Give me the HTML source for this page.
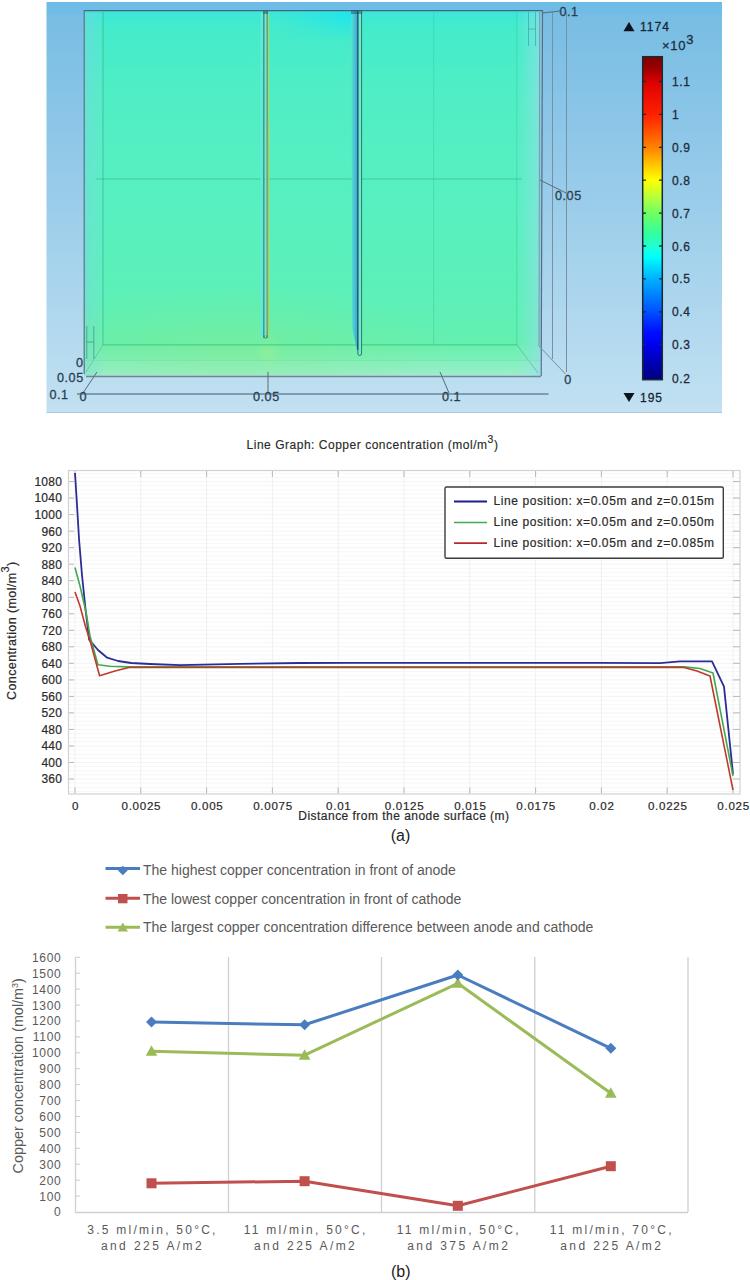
<!DOCTYPE html>
<html><head><meta charset="utf-8">
<style>
html,body{margin:0;padding:0;background:#fff;}
body{width:750px;height:1280px;overflow:hidden;position:relative;font-family:"Liberation Sans",sans-serif;}
svg{position:absolute;left:0;top:0;}
text{font-family:"Liberation Sans",sans-serif;}
</style></head><body>

<!-- ============ TOP: 3D COMSOL PLOT ============ -->
<svg id="top3d" width="750" height="420" viewBox="0 0 750 420">
<defs>
<linearGradient id="bg" x1="0" y1="0" x2="0" y2="1">
<stop offset="0" stop-color="#6ebce6"/>
<stop offset="0.027" stop-color="#70bce6"/>
<stop offset="0.03" stop-color="#78bde4"/>
<stop offset="0.5" stop-color="#9bcdea"/>
<stop offset="1" stop-color="#c2e1f2"/>
</linearGradient>
<linearGradient id="box" x1="0" y1="0" x2="0" y2="1">
<stop offset="0" stop-color="#3ae8d8"/>
<stop offset="0.05" stop-color="#44ebcc"/>
<stop offset="0.25" stop-color="#50eec4"/>
<stop offset="0.6" stop-color="#58f0c0"/>
<stop offset="0.9" stop-color="#5ef0b6"/>
<stop offset="1" stop-color="#64f0b0"/>
</linearGradient>
<linearGradient id="floor" x1="0" y1="0" x2="0" y2="1">
<stop offset="0" stop-color="#6af0b0"/>
<stop offset="0.48" stop-color="#7af0b8"/>
<stop offset="0.52" stop-color="#84f0c0"/>
<stop offset="0.85" stop-color="#92eec6"/>
<stop offset="1" stop-color="#a8e8d4"/>
</linearGradient>
<linearGradient id="rside" x1="0" y1="0" x2="1" y2="0">
<stop offset="0" stop-color="#a0e0f0" stop-opacity="0"/>
<stop offset="1" stop-color="#98dcec" stop-opacity="0.6"/>
</linearGradient>
<linearGradient id="lside" x1="0" y1="0" x2="1" y2="0">
<stop offset="0" stop-color="#80d0e8" stop-opacity="0.45"/>
<stop offset="1" stop-color="#80e0e0" stop-opacity="0.15"/>
</linearGradient>
<linearGradient id="cyanhl" x1="0" y1="0" x2="0" y2="1">
<stop offset="0" stop-color="#18e4f4" stop-opacity="0.9"/>
<stop offset="1" stop-color="#18e4f4" stop-opacity="0"/>
</linearGradient>
<linearGradient id="cyanhlx" x1="0" y1="0" x2="1" y2="0">
<stop offset="0" stop-color="#fff" stop-opacity="0"/>
<stop offset="1" stop-color="#fff" stop-opacity="1"/>
</linearGradient>
<mask id="hlmask"><rect x="280" y="11" width="72" height="30" fill="url(#cyanhlx)"/></mask>
<linearGradient id="cbar" x1="0" y1="0" x2="0" y2="1">
<stop offset="0" stop-color="#7c0000"/>
<stop offset="0.04" stop-color="#a00000"/>
<stop offset="0.077" stop-color="#dc0000"/>
<stop offset="0.179" stop-color="#ff2000"/>
<stop offset="0.23" stop-color="#ff5000"/>
<stop offset="0.28" stop-color="#ff8000"/>
<stop offset="0.33" stop-color="#ffc000"/>
<stop offset="0.382" stop-color="#ffff00"/>
<stop offset="0.44" stop-color="#b0ff40"/>
<stop offset="0.484" stop-color="#70ff60"/>
<stop offset="0.55" stop-color="#30ffa0"/>
<stop offset="0.586" stop-color="#20ffd0"/>
<stop offset="0.62" stop-color="#00ffff"/>
<stop offset="0.688" stop-color="#00b0ff"/>
<stop offset="0.74" stop-color="#0080ff"/>
<stop offset="0.79" stop-color="#0050ff"/>
<stop offset="0.85" stop-color="#0010ff"/>
<stop offset="0.892" stop-color="#0000f0"/>
<stop offset="0.95" stop-color="#0000b0"/>
<stop offset="1" stop-color="#000080"/>
</linearGradient>
</defs>
<rect x="46.5" y="2" width="675.5" height="411" fill="url(#bg)"/>
<line x1="46.5" y1="412.5" x2="722" y2="412.5" stroke="#b0c8d8" stroke-width="1"/>

<!-- green box -->
<rect x="84" y="11" width="456" height="334" fill="url(#box)"/>
<rect x="84" y="345" width="456" height="31" fill="url(#floor)"/>
<rect x="84" y="11" width="19" height="365" fill="url(#lside)"/>
<rect x="517" y="11" width="23" height="365" fill="url(#rside)"/>
<rect x="280" y="11" width="72" height="30" fill="url(#cyanhl)" mask="url(#hlmask)"/>
<defs>
<radialGradient id="ygl" cx="230" cy="350" r="230" gradientUnits="userSpaceOnUse" gradientTransform="translate(230 350) scale(1 0.28) translate(-230 -350)">
<stop offset="0" stop-color="#90e880" stop-opacity="0.35"/>
<stop offset="1" stop-color="#90e880" stop-opacity="0"/>
</radialGradient>
<radialGradient id="ygl2" cx="268" cy="352" r="30" gradientUnits="userSpaceOnUse" gradientTransform="translate(268 352) scale(0.45 0.6) translate(-268 -352)">
<stop offset="0" stop-color="#c8f070" stop-opacity="0.22"/>
<stop offset="1" stop-color="#c8f070" stop-opacity="0"/>
</radialGradient>
</defs>
<rect x="84" y="200" width="456" height="176" fill="url(#ygl)"/>
<rect x="220" y="330" width="100" height="46" fill="url(#ygl2)"/>

<!-- back face / internal lines -->
<g fill="none" stroke-width="1">
<line x1="84" y1="12.5" x2="540" y2="12.5" stroke="#50d8d8" opacity="0.6"/>
<line x1="103" y1="12" x2="103" y2="345" stroke="#30b890" opacity="0.75"/>
<line x1="516.8" y1="12" x2="516.8" y2="345" stroke="#40d0a0" opacity="0.6"/>
<line x1="433.7" y1="12" x2="433.7" y2="345" stroke="#30b890" opacity="0.35"/>
<line x1="103" y1="344.8" x2="517" y2="344.8" stroke="#3cc888" stroke-width="1.3" opacity="0.8"/>
<line x1="96" y1="179" x2="522" y2="179" stroke="#34a884" opacity="0.55"/>
<line x1="103" y1="345" x2="86" y2="372" stroke="#40c090" opacity="0.6"/>
<line x1="517" y1="345" x2="538" y2="373" stroke="#60b8a8" opacity="0.8"/>
<line x1="86" y1="360.5" x2="540" y2="360.5" stroke="#70e0b0" opacity="0.5"/>
</g>
<!-- small electrode marks -->
<g stroke="#2c9c7c" stroke-width="0.9" fill="none" opacity="0.8">
<path d="M86.8 326V359M93.8 326V359M86.8 342h7"/>
<path d="M528.5 12V46M535.5 12V46M528.5 29h7" stroke="#3aa8a0"/>
</g>

<!-- front face border -->
<polygon points="539.7,11 542.5,11 541.6,346 539,346" fill="#94c8d8" opacity="0.7"/>
<line x1="84" y1="10.6" x2="543" y2="10.6" stroke="#3a6a7c" stroke-width="1.3"/>
<line x1="84.2" y1="10" x2="84.2" y2="374" stroke="#5a7484" stroke-width="1.2"/>
<line x1="542.5" y1="10" x2="541.2" y2="376" stroke="#4e7088" stroke-width="1.2"/>
<line x1="539.7" y1="12" x2="539" y2="346" stroke="#7a98a8" stroke-width="1"/>
<line x1="86" y1="376.5" x2="541" y2="376.5" stroke="#6c8696" stroke-width="1.5"/>

<!-- anode plate (left) -->
<defs><linearGradient id="cath" x1="0" y1="0" x2="1" y2="0"><stop offset="0" stop-color="#58e0d0"/><stop offset="1" stop-color="#3ca8d8"/></linearGradient></defs>
<rect x="260.5" y="12" width="2.5" height="325" fill="#64e8d4"/>
<rect x="264.5" y="12" width="2.2" height="325" fill="#80e2d0"/>
<line x1="263.8" y1="11" x2="263.8" y2="338" stroke="#2e9c8c" stroke-width="1.4"/>
<line x1="267.2" y1="11" x2="267.2" y2="338" stroke="#5e7a58" stroke-width="1.1"/>
<path d="M263.8 335Q263.8 338.3 265.5 338.3Q267.2 338.3 267.2 335" fill="none" stroke="#4a7a68" stroke-width="1"/>
<line x1="268.5" y1="14" x2="268.5" y2="337" stroke="#a4dc6c" stroke-width="1.4"/>
<line x1="268.3" y1="120" x2="268.3" y2="330" stroke="#d8b838" stroke-width="0.8" opacity="0.7"/>
<rect x="263" y="10" width="5" height="4" fill="#2a6a70" opacity="0.6"/>
<!-- cathode plate (right) -->
<polygon points="351.3,11 357.4,11 357.4,352 352.2,328" fill="url(#cath)"/>
<rect x="358.3" y="11" width="2.8" height="343" fill="#74e8c8"/>
<path d="M357.8 11V353Q357.8 355.6 359.7 355.6Q361.6 355.6 361.6 353V11" fill="none" stroke="#2c7878" stroke-width="1"/>
<line x1="357.8" y1="11" x2="357.8" y2="350" stroke="#1c5670" stroke-width="1.2"/>
<rect x="351" y="10" width="11" height="4" fill="#1a4a70" opacity="0.5"/>

<!-- right axis frame lines -->
<g stroke="#7a90a0" stroke-width="1" fill="none">
<line x1="552.5" y1="12" x2="552.5" y2="359"/>
<line x1="566.5" y1="12" x2="566.5" y2="372"/>
<line x1="539" y1="346" x2="565.5" y2="374"/>
</g>
<g stroke="#5a6a7a" stroke-width="1" fill="none">
<line x1="542.5" y1="13" x2="560" y2="11"/>
<line x1="540" y1="180" x2="566" y2="193"/>
<line x1="97" y1="372" x2="83" y2="393"/>
<line x1="268" y1="372" x2="268" y2="392"/>
<line x1="440" y1="372" x2="449" y2="393"/>
</g>
<line x1="77" y1="394" x2="548.5" y2="394" stroke="#6e8494" stroke-width="1.5"/>

<!-- axis labels -->
<g font-size="12.6" fill="#2a3e50" stroke="#2a3e50" stroke-width="0.3" letter-spacing="0.55">
<text x="559.5" y="16">0.1</text>
<text x="555" y="200.3">0.05</text>
<text x="564.3" y="383.5">0</text>
<text x="76" y="367.2">0</text>
<text x="57" y="382">0.05</text>
<text x="49.5" y="399.2">0.1</text>
<text x="79.5" y="401.3">0</text>
<text x="253" y="401.3">0.05</text>
<text x="442" y="401.3">0.1</text>
</g>

<!-- colorbar -->
<rect x="642.7" y="56.7" width="19.6" height="323" fill="url(#cbar)" stroke="#1a2a30" stroke-width="1.5"/>
<path d="M643 81.5h3M659 81.5h3M643 114.4h3M659 114.4h3M643 147.3h3M659 147.3h3M643 180.2h3M659 180.2h3M643 213.1h3M659 213.1h3M643 246h3M659 246h3M643 278.9h3M659 278.9h3M643 311.8h3M659 311.8h3M643 344.7h3M659 344.7h3" stroke="#1a2a30" stroke-width="1.3"/>
<g font-size="12" fill="#1c2e3e" stroke="#1c2e3e" stroke-width="0.3" letter-spacing="0.6">
<text x="672" y="86">1.1</text>
<text x="672" y="118.9">1</text>
<text x="672" y="151.8">0.9</text>
<text x="672" y="184.7">0.8</text>
<text x="672" y="217.6">0.7</text>
<text x="672" y="250.5">0.6</text>
<text x="672" y="283.4">0.5</text>
<text x="672" y="316.3">0.4</text>
<text x="672" y="349.2">0.3</text>
<text x="672" y="382.5">0.2</text>
<text x="640" y="31.3" fill="#101c28" letter-spacing="1">1174</text>
<text x="640" y="402" fill="#101c28" letter-spacing="1">195</text>
<text x="662" y="50" font-size="13" letter-spacing="0.7">×10</text>
<text x="686.3" y="44.2" font-size="13">3</text>
</g>
<path d="M623.5 31.3 L629 22 L634.5 31.3 Z" fill="#0c141c"/>
<path d="M623.5 393 L629 402 L634.5 393 Z" fill="#0c141c"/>
</svg>

<!-- ============ CHART (a) ============ -->
<svg id="chartA" width="750" height="860" viewBox="0 0 750 860">
<text x="372.5" y="448.8" font-size="12" fill="#2a2a2a" stroke="#2a2a2a" stroke-width="0.15" text-anchor="middle" letter-spacing="0.52">Line Graph: Copper concentration (mol/m<tspan font-size="10.5" dy="-5.5">3</tspan><tspan dy="5.5">)</tspan></text>
<path d="M69 791.4H740 M69 787.3H740 M69 783.1H740 M69 774.9H740 M69 770.7H740 M69 766.6H740 M69 758.3H740 M69 754.2H740 M69 750.1H740 M69 741.8H740 M69 737.7H740 M69 733.6H740 M69 725.3H740 M69 721.2H740 M69 717.0H740 M69 708.8H740 M69 704.6H740 M69 700.5H740 M69 692.3H740 M69 688.1H740 M69 684.0H740 M69 675.7H740 M69 671.6H740 M69 667.5H740 M69 659.2H740 M69 655.1H740 M69 651.0H740 M69 642.7H740 M69 638.6H740 M69 634.4H740 M69 626.2H740 M69 622.0H740 M69 617.9H740 M69 609.6H740 M69 605.5H740 M69 601.4H740 M69 593.1H740 M69 589.0H740 M69 584.9H740 M69 576.6H740 M69 572.5H740 M69 568.3H740 M69 560.1H740 M69 555.9H740 M69 551.8H740 M69 543.6H740 M69 539.4H740 M69 535.3H740 M69 527.0H740 M69 522.9H740 M69 518.8H740 M69 510.5H740 M69 506.4H740 M69 502.2H740 M69 494.0H740 M69 489.9H740 M69 485.7H740 M69 477.5H740 M69 473.3H740" stroke="#f7f7f7" stroke-width="1"/>
<path d="M69 779.0H740 M69 762.5H740 M69 746.0H740 M69 729.4H740 M69 712.9H740 M69 696.4H740 M69 679.9H740 M69 663.3H740 M69 646.8H740 M69 630.3H740 M69 613.8H740 M69 597.3H740 M69 580.7H740 M69 564.2H740 M69 547.7H740 M69 531.2H740 M69 514.6H740 M69 498.1H740 M69 481.6H740" stroke="#f3f3f3" stroke-width="1"/>
<path d="M75.0 471V794 M140.8 471V794 M206.6 471V794 M272.4 471V794 M338.2 471V794 M404.0 471V794 M469.8 471V794 M535.6 471V794 M601.4 471V794 M667.2 471V794 M733.0 471V794" stroke="#f0f0f0" stroke-width="1"/>
<rect x="68.5" y="470.5" width="671.5" height="323.5" fill="none" stroke="#d2d2d6" stroke-width="1.2"/>
<path d="M69 779.0h5M733 779.0h7 M69 762.5h5M733 762.5h7 M69 746.0h5M733 746.0h7 M69 729.4h5M733 729.4h7 M69 712.9h5M733 712.9h7 M69 696.4h5M733 696.4h7 M69 679.9h5M733 679.9h7 M69 663.3h5M733 663.3h7 M69 646.8h5M733 646.8h7 M69 630.3h5M733 630.3h7 M69 613.8h5M733 613.8h7 M69 597.3h5M733 597.3h7 M69 580.7h5M733 580.7h7 M69 564.2h5M733 564.2h7 M69 547.7h5M733 547.7h7 M69 531.2h5M733 531.2h7 M69 514.6h5M733 514.6h7 M69 498.1h5M733 498.1h7 M69 481.6h5M733 481.6h7 M75.0 471v6M75.0 793.5v-6 M140.8 471v6M140.8 793.5v-6 M206.6 471v6M206.6 793.5v-6 M272.4 471v6M272.4 793.5v-6 M338.2 471v6M338.2 793.5v-6 M404.0 471v6M404.0 793.5v-6 M469.8 471v6M469.8 793.5v-6 M535.6 471v6M535.6 793.5v-6 M601.4 471v6M601.4 793.5v-6 M667.2 471v6M667.2 793.5v-6 M733.0 471v6M733.0 793.5v-6" stroke="#b8b8b8" stroke-width="1"/>
<g font-size="12" fill="#2a2a2a" stroke="#2a2a2a" stroke-width="0.2" text-anchor="end" letter-spacing="0.3">
<text x="62.3" y="783.3">360</text>
<text x="62.3" y="766.8">400</text>
<text x="62.3" y="750.3">440</text>
<text x="62.3" y="733.7">480</text>
<text x="62.3" y="717.2">520</text>
<text x="62.3" y="700.7">560</text>
<text x="62.3" y="684.2">600</text>
<text x="62.3" y="667.6">640</text>
<text x="62.3" y="651.1">680</text>
<text x="62.3" y="634.6">720</text>
<text x="62.3" y="618.1">760</text>
<text x="62.3" y="601.6">800</text>
<text x="62.3" y="585.0">840</text>
<text x="62.3" y="568.5">880</text>
<text x="62.3" y="552.0">920</text>
<text x="62.3" y="535.5">960</text>
<text x="62.3" y="518.9">1000</text>
<text x="62.3" y="502.4">1040</text>
<text x="62.3" y="485.9">1080</text>
</g>
<g font-size="11.6" fill="#2a2a2a" stroke="#2a2a2a" stroke-width="0.2" text-anchor="middle" letter-spacing="0.7" transform="translate(0.6 0)">
<text x="75.0" y="810">0</text>
<text x="140.8" y="810">0.0025</text>
<text x="206.6" y="810">0.005</text>
<text x="272.4" y="810">0.0075</text>
<text x="338.2" y="810">0.01</text>
<text x="404.0" y="810">0.0125</text>
<text x="469.8" y="810">0.015</text>
<text x="535.6" y="810">0.0175</text>
<text x="601.4" y="810">0.02</text>
<text x="667.2" y="810">0.0225</text>
<text x="733.0" y="810">0.025</text>
</g>
<text x="298.3" y="819.7" font-size="12" fill="#2a2a2a" stroke="#2a2a2a" stroke-width="0.2" letter-spacing="0.47">Distance from the anode surface (m)</text>
<text transform="translate(15.9 700) rotate(-90)" font-size="12.5" fill="#2a2a2a" stroke="#2a2a2a" stroke-width="0.2" letter-spacing="0.4">Concentration (mol/m<tspan font-size="11" dy="-6.5">3</tspan><tspan dy="6.5">)</tspan></text>
<polyline points="75,473 77,505 79.1,540 82,575 85.6,610 89.1,639.6 98,650 107.2,657.7 118,661 131.2,663 150,664 180,665.2 240,663.8 300,663 350,662.8 450,662.9 600,662.9 660,663.1 680,661.4 712,661.4 724,686.6 733,774" fill="none" stroke="#2c2c98" stroke-width="1.8" stroke-linejoin="round"/>
<polyline points="75,567.5 80,586 86,612 90,636 97.9,664.7 110,666.3 129,666.9 684,666.9 700,668.5 713,673 733,776" fill="none" stroke="#43a84e" stroke-width="1.6" stroke-linejoin="round"/>
<polyline points="75,592.1 80,606 85.6,627 89.7,639.5 99.6,675.8 115,671 128.9,667.5 684,667.4 697,671 710,676 733,790" fill="none" stroke="#c0392b" stroke-width="1.6" stroke-linejoin="round"/>
<rect x="445" y="487" width="278.3" height="71.3" rx="1.5" fill="#fff" stroke="#3c3c3c" stroke-width="1.4"/>
<path d="M454 501.5H487" stroke="#1e1e8c" stroke-width="1.8"/>
<path d="M454 522.5H487" stroke="#43a84e" stroke-width="1.6"/>
<path d="M454 543.2H487" stroke="#b82a2a" stroke-width="1.8"/>
<g font-size="12" fill="#2a2a2a" stroke="#2a2a2a" stroke-width="0.2" letter-spacing="0.6">
<text x="493.4" y="505.3">Line position: x=0.05m and z=0.015m</text>
<text x="493.4" y="525.9">Line position: x=0.05m and z=0.050m</text>
<text x="493.4" y="546.8">Line position: x=0.05m and z=0.085m</text>
</g>
<text x="400.5" y="841" font-size="16" fill="#222" text-anchor="middle">(a)</text>
</svg>
<!-- ============ CHART (b) ============ -->
<svg id="chartB" width="750" height="1280" viewBox="0 0 750 1280" style="top:0">
<g stroke-width="3">
<path d="M105.5 868.5H140" stroke="#4a7dbf"/>
<path d="M105.5 898.3H140" stroke="#c0504d"/>
<path d="M105.5 927.3H140" stroke="#9bbb59"/>
</g>
<path d="M122.8 865.8 L127.6 870.5 L122.8 875.2 L118 870.5 Z" fill="#4a7dbf"/>
<rect x="118" y="894" width="9.5" height="9.3" fill="#c0504d"/>
<path d="M122.8 922.5 L128 931.5 L117.6 931.5 Z" fill="#9bbb59"/>
<g font-size="14" fill="#595959">
<text x="143" y="874.6">The highest copper concentration in front of anode</text>
<text x="143" y="903.9">The lowest copper concentration in front of cathode</text>
<text x="143" y="931.8">The largest copper concentration difference between anode and cathode</text>
</g>
<path d="M75.5 957V1212.5H688M228.5 957V1212M381.5 957V1212M534.8 957V1212M688 957V1212" fill="none" stroke="#d0d0d0" stroke-width="1.3"/>
<path d="M75.5 1196.1h4.5 M75.5 1180.2h4.5 M75.5 1164.2h4.5 M75.5 1148.3h4.5 M75.5 1132.4h4.5 M75.5 1116.5h4.5 M75.5 1100.6h4.5 M75.5 1084.6h4.5 M75.5 1068.7h4.5 M75.5 1052.8h4.5 M75.5 1036.9h4.5 M75.5 1021.0h4.5 M75.5 1005.1h4.5 M75.5 989.1h4.5 M75.5 973.2h4.5 M75.5 957.3h4.5" stroke="#cccccc" stroke-width="1"/>
<g font-size="12" fill="#595959" text-anchor="end" letter-spacing="0.7">
<text x="61.4" y="1216.4">0</text>
<text x="61.4" y="1200.5">100</text>
<text x="61.4" y="1184.6">200</text>
<text x="61.4" y="1168.6">300</text>
<text x="61.4" y="1152.7">400</text>
<text x="61.4" y="1136.8">500</text>
<text x="61.4" y="1120.9">600</text>
<text x="61.4" y="1105.0">700</text>
<text x="61.4" y="1089.0">800</text>
<text x="61.4" y="1073.1">900</text>
<text x="61.4" y="1057.2">1000</text>
<text x="61.4" y="1041.3">1100</text>
<text x="61.4" y="1025.4">1200</text>
<text x="61.4" y="1009.5">1300</text>
<text x="61.4" y="993.5">1400</text>
<text x="61.4" y="977.6">1500</text>
<text x="61.4" y="961.7">1600</text>
</g>
<text transform="translate(22.5 1173.5) rotate(-90)" font-size="14.4" fill="#595959">Copper concentration (mol/m<tspan font-size="9" dy="-5">3</tspan><tspan dy="5">)</tspan></text>
<polyline points="151.5,1183.3 304.6,1181.2 457.8,1205.8 610.8,1166.2" fill="none" stroke="#c0504d" stroke-width="3" stroke-linejoin="round"/>
<rect x="146.5" y="1178.3" width="10" height="10" fill="#c0504d"/>
<rect x="299.6" y="1176.2" width="10" height="10" fill="#c0504d"/>
<rect x="452.8" y="1200.8" width="10" height="10" fill="#c0504d"/>
<rect x="605.8" y="1161.2" width="10" height="10" fill="#c0504d"/>
<polyline points="151.5,1051.2 304.6,1055.2 457.8,983.3 610.8,1093.3" fill="none" stroke="#9bbb59" stroke-width="3" stroke-linejoin="round"/>
<path d="M151.5 1045.2L157.3 1055.7L145.7 1055.7Z" fill="#9bbb59"/>
<path d="M304.6 1049.2L310.4 1059.7L298.8 1059.7Z" fill="#9bbb59"/>
<path d="M457.8 977.3L463.6 987.8L452.0 987.8Z" fill="#9bbb59"/>
<path d="M610.8 1087.3L616.6 1097.8L605.0 1097.8Z" fill="#9bbb59"/>
<polyline points="151.5,1022.1 304.6,1024.8 457.8,975 610.8,1048.3" fill="none" stroke="#4a7dbf" stroke-width="3" stroke-linejoin="round"/>
<path d="M151.5 1016.6L157.0 1022.1L151.5 1027.6L146.0 1022.1Z" fill="#4a7dbf"/>
<path d="M304.6 1019.3L310.1 1024.8L304.6 1030.3L299.1 1024.8Z" fill="#4a7dbf"/>
<path d="M457.8 969.5L463.3 975.0L457.8 980.5L452.3 975.0Z" fill="#4a7dbf"/>
<path d="M610.8 1042.8L616.3 1048.3L610.8 1053.8L605.3 1048.3Z" fill="#4a7dbf"/>
<g font-size="12" fill="#595959" text-anchor="middle" letter-spacing="2.25">
<text x="152.5" y="1233.6">3.5 ml/min, 50°C,</text>
<text x="152.5" y="1250" letter-spacing="2.43">and 225 A/m2</text>
<text x="305.6" y="1233.6">11 ml/min, 50°C,</text>
<text x="305.6" y="1250" letter-spacing="2.43">and 225 A/m2</text>
<text x="458.8" y="1233.6">11 ml/min, 50°C,</text>
<text x="458.8" y="1250" letter-spacing="2.43">and 375 A/m2</text>
<text x="611.8" y="1233.6">11 ml/min, 70°C,</text>
<text x="611.8" y="1250" letter-spacing="2.43">and 225 A/m2</text>
</g>
<text x="400.8" y="1277" font-size="16" fill="#222" text-anchor="middle">(b)</text>
</svg>
</body></html>
